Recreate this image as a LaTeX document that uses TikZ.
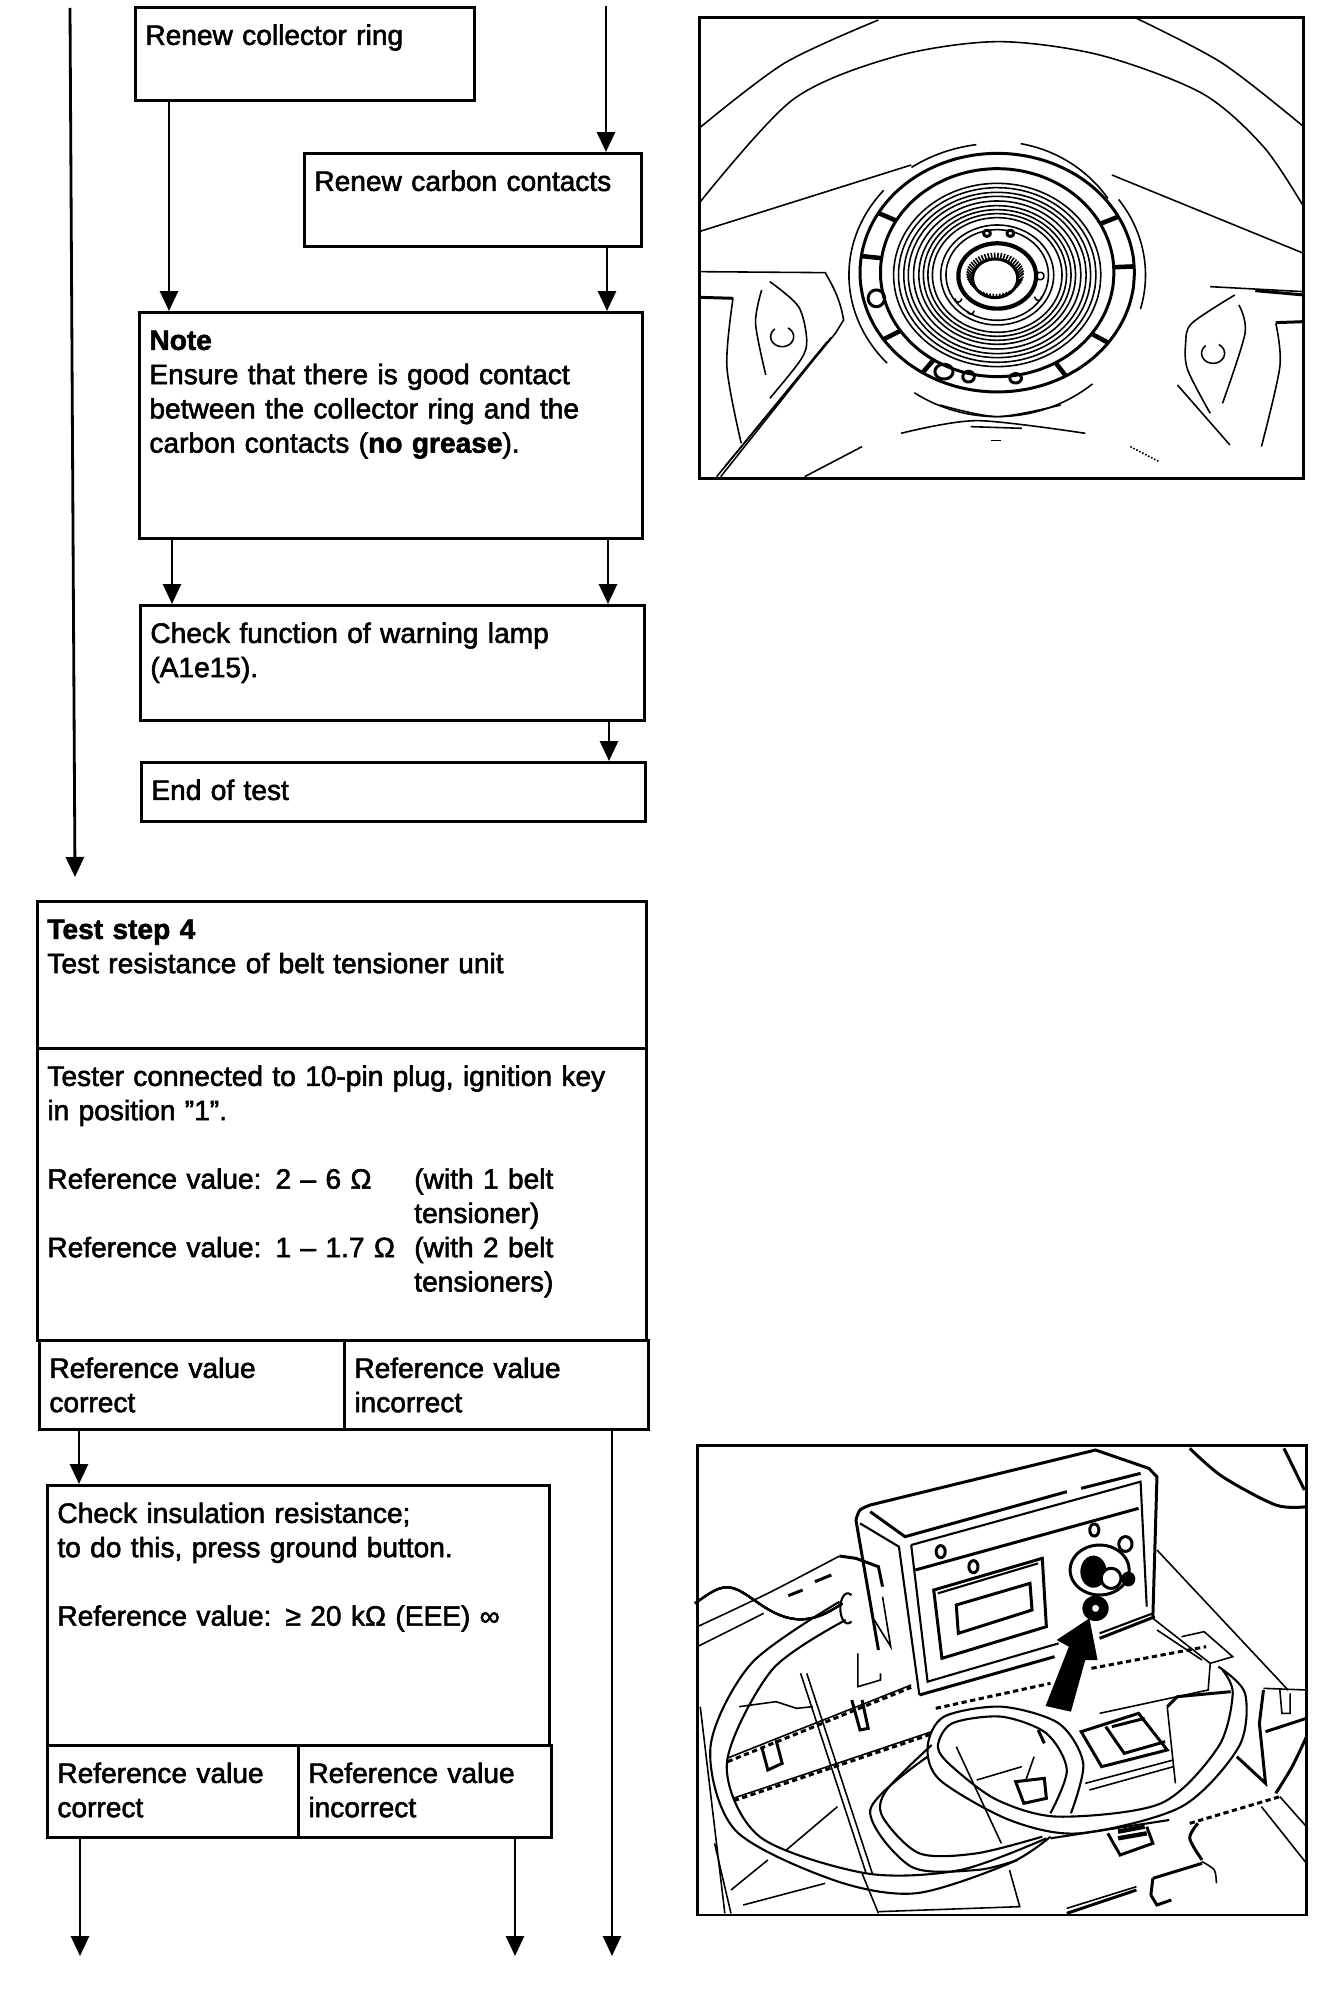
\documentclass[tikz,border=0pt]{standalone}
\usepackage{fontspec}
\setmainfont[RawFeature={embolden=2.0}]{Liberation Sans}
\usetikzlibrary{arrows.meta,calc}
\newcommand{\ringarc}[6]{plot[domain=#5:#6,samples=48,smooth]({#1+#3*cos(\x)},{#2-#4*sin(\x)})}
\tikzset{
    flowbox/.style = {draw, line width=1.6pt, anchor=north west, align=left, inner xsep=0.2cm, inner ysep=0.2cm, text height=0.55cm, font=\fontsize{16}{19.5}\selectfont},
    flowline/.style = {draw, line width=1.6pt, -{Stealth[length=0.4cm,width=0.36cm,inset=0pt]}},
    art/.style = {line width=0.9pt},
    tube/.style = {line width=1.2pt},
    artthick/.style = {line width=1.7pt},
    frame/.style = {line width=1.7pt}
}
\begin{document}
\begin{tikzpicture}[x=0.02cm,y=-0.02cm]
    \path[use as bounding box](0,0)rectangle(1344,2000);
    % flow boxes
    \node[flowbox, text width=6.38cm, text depth=0.91cm](Ring)at(134,6){Renew collector ring};
    \node[flowbox, text width=6.34cm, text depth=0.91cm](Carbon)at(303,152){Renew carbon contacts};
    \node[flowbox, text width=9.66cm, text depth=3.57cm](Note)at(138,311){\textbf{Note}\\Ensure that there is good contact\\between the collector ring and the\\carbon contacts (\textbf{no grease}).};
    \node[flowbox, text width=9.68cm, text depth=1.35cm](Lamp)at(139,604){Check function of warning lamp\\(A1e15).};
    \node[flowbox, text width=9.68cm, text depth=0.23cm](End)at(140,761){End of test};
    \node[flowbox, text width=11.78cm, text depth=1.99cm](Step)at(36,900){\textbf{Test step 4}\\Test resistance of belt tensioner unit};
    \node[flowbox, text width=11.78cm, text depth=4.89cm](Tester)at(36,1047){Tester connected to 10-pin plug, ignition key\\in position "1".\\[19.5pt]\makebox[7.34cm][l]{Reference value: 2 – 6 Ω}(with 1 belt\\\hspace*{7.34cm}tensioner)\\\makebox[7.34cm][l]{Reference value: 1 – 1.7 Ω}(with 2 belt\\\hspace*{7.34cm}tensioners)};
    \node[flowbox, text width=5.70cm, text depth=0.83cm](ValueA)at(38,1339){Reference value\\correct};
    \node[flowbox, text width=5.68cm, text depth=0.83cm](ValueB)at(343,1339){Reference value\\incorrect};
    \node[flowbox, text width=9.64cm, text depth=4.25cm](Insul)at(46,1484){Check insulation resistance;\\to do this, press ground button.\\[19.5pt]Reference value: ≥ 20 kΩ (EEE) ∞};
    \node[flowbox, text width=4.62cm, text depth=0.89cm](ValueC)at(46,1744){Reference value\\correct};
    \node[flowbox, text width=4.66cm, text depth=0.89cm](ValueD)at(297,1744){Reference value\\incorrect};
    % free ends
    \coordinate(T1)at(70,8);
    \coordinate(T2)at(606,6);
    \coordinate(S1)at(75,877);
    \coordinate(S2)at(612,1956);
    \coordinate(S3)at(80,1956);
    \coordinate(S4)at(515,1956);
    % connectors
    \path[flowline](T1)to(S1);
    \path[flowline](T2)to(T2|-Carbon.north);
    \path[flowline](169,0|-Ring.south)to(169,0|-Note.north);
    \path[flowline](607,0|-Carbon.south)to(607,0|-Note.north);
    \path[flowline](172,0|-Note.south)to(172,0|-Lamp.north);
    \path[flowline](608,0|-Note.south)to(608,0|-Lamp.north);
    \path[flowline](609,0|-Lamp.south)to(609,0|-End.north);
    \path[flowline](79,0|-ValueA.south)to(79,0|-Insul.north);
    \path[flowline](S2|-ValueB.south)to(S2);
    \path[flowline](S3|-ValueC.south)to(S3);
    \path[flowline](S4|-ValueD.south)to(S4);
    % upper picture
    \begin{scope}[shift={(690,0)},x=0.0082cm,y=-0.00667cm]
        \draw[frame](22,52)rectangle(1498,1435);
        % wheel rim
        \draw[art]plot[smooth]coordinates{(22,385)(230,190)(460,60)};
        \draw[art]plot[smooth]coordinates{(1090,55)(1300,190)(1498,380)};
        \draw[art]plot[smooth]coordinates{(22,610)(250,300)(500,170)(750,125)(1000,165)(1250,280)(1400,440)(1498,620)};
        \draw[art](22,695)to(540,495);
        \draw[art](1030,525)to(1498,760);
        % collector ring
        \draw[artthick]\ringarc{750}{818}{335}{358}{0}{360};
        \draw[artthick]\ringarc{750}{818}{285}{312}{0}{360};
        \foreach \r in {275,262,248,236,222,208,196,184,172,150,136}{
            \draw[art]\ringarc{750}{825}{0.92*\r}{\r}{0}{360};
        }
        \draw[art]\ringarc{750}{830}{365}{400}{98}{125};
        \draw[art]\ringarc{750}{825}{362}{395}{140}{222};
        \draw[art]\ringarc{750}{825}{362}{395}{-15}{35};
        \draw[art]\ringarc{750}{825}{330}{400}{35}{80};
        \draw[art]\ringarc{750}{830}{362}{420}{236}{310};
        \foreach \a in {150,172,214,237,300,324,3,28}{
            \draw[line width=2.6pt]({750+285*cos(\a)},{818-312*sin(\a)})to({750+335*cos(\a)},{818-358*sin(\a)});
        }
        \draw[artthick]\ringarc{455}{895}{20}{25}{0}{360};
        \draw[artthick]\ringarc{620}{1115}{22}{22}{0}{360};
        \draw[artthick]\ringarc{680}{1130}{14}{16}{0}{360};
        \draw[artthick]\ringarc{795}{1135}{14}{14}{0}{360};
        % hub
        \draw[line width=2.4pt]\ringarc{750}{828}{95}{98}{0}{360};
        \draw[artthick]\ringarc{745}{835}{55}{58}{0}{360};
        \foreach \a in {0,7,...,353}{
            \draw[art]({745+55*cos(\a)},{835-58*sin(\a)})to({745+70*cos(\a)},{820-62*sin(\a)});
        }
        \draw[artthick]\ringarc{725}{700}{8}{9}{0}{360};
        \draw[artthick]\ringarc{782}{700}{8}{9}{0}{360};
        \draw[art]\ringarc{855}{828}{9}{11}{0}{360};
        \draw[art]\ringarc{655}{895}{8}{11}{180}{360};
        \draw[art]\ringarc{850}{890}{8}{11}{180}{360};
        \draw[art]\ringarc{685}{932}{8}{10}{180}{360};
        % left spoke
        \draw[art](22,815)to(330,818)to[out=-60,in=100](375,960)to(355,1000)to(65,1430);
        \draw[art](345,1012)to(75,1430);
        \draw[art](335,1025)to(85,1400);
        \draw[artthick](22,892)to(105,895);
        \draw[art]plot[smooth]coordinates{(105,895)(90,1100)(125,1330)};
        \draw[art]plot[smooth]coordinates{(195,845)(265,920)(285,1020)(270,1080)(195,1195)};
        \draw[art]plot[smooth]coordinates{(175,870)(160,970)(185,1125)};
        \draw[art]\ringarc{225}{1010}{28}{30}{-230}{60};
        % right spoke
        \draw[art](1270,860)to(1498,875);
        \draw[artthick](1380,872)to(1498,885);
        \draw[artthick](1430,968)to(1498,965);
        \draw[art]plot[smooth]coordinates{(1430,970)(1440,1100)(1395,1340)};
        \draw[art]plot[smooth]coordinates{(1330,885)(1225,970)(1210,1030)(1215,1110)(1270,1240)};
        \draw[art](1190,1155)to(1318,1335);
        \draw[art]plot[smooth]coordinates{(1340,915)(1355,1000)(1300,1210)};
        \draw[art]\ringarc{1277}{1060}{28}{30}{-230}{60};
        % lower rim
        \draw[art]plot[smooth]coordinates{(515,1300)(700,1262)(965,1300)};
        \draw[art](280,1430)to(420,1340);
        \draw[art,densely dotted](1075,1340)to(1145,1385);
        \draw[art](685,1280)to(810,1285);
        \draw[art](735,1322)to(760,1322);
        \draw[art]plot[smooth]coordinates{(610,1215)(750,1250)(905,1215)};
    \end{scope}
    % lower picture
    \begin{scope}[shift={(690,1430)},x=0.0082cm,y=-0.00667cm]
        \draw[frame](18,45)rectangle(1505,1455);
        % tester case
        \draw[artthick]plot[smooth]coordinates{(405,270)(415,240)(440,225)};
        \draw[artthick](440,225)to(990,60)to(1120,115)to(1140,140)to(1130,560);
        \draw[artthick](405,270)to(460,660);
        \draw[artthick](440,245)to(525,320)to(920,185);
        \draw[artthick](955,175)to(1100,130);
        \draw[tube](540,345)to(1100,155)to(1115,530);
        \draw[artthick](550,420)to(1095,235);
        \draw[tube](415,280)to(510,350)to(560,795);
        \draw[tube](540,345)to(580,755)to(900,640);
        \draw[tube](1000,610)to(1130,550);
        \draw[artthick](560,795)to(890,680);
        \draw[artthick](1000,625)to(1135,560);
        % display
        \draw[artthick](595,480)to(860,385)to(870,590)to(615,685)--cycle;
        \draw[tube](605,490)to(850,400);
        \draw[artthick](650,525)to(830,460)to(835,540)to(655,610)--cycle;
        % screws and knob
        \draw[artthick]\ringarc{612}{365}{11}{18}{0}{360};
        \draw[artthick]\ringarc{692}{410}{11}{18}{0}{360};
        \draw[artthick]\ringarc{987}{300}{11}{18}{0}{360};
        \draw[artthick]\ringarc{1063}{342}{16}{22}{0}{360};
        \draw[artthick]\ringarc{1000}{420}{72}{75}{0}{360};
        \fill\ringarc{985}{425}{32}{48}{0}{360};
        \fill[white]\ringarc{1028}{445}{24}{30}{0}{360};
        \draw[artthick]\ringarc{1028}{445}{24}{30}{0}{360};
        \fill\ringarc{1070}{447}{17}{22}{0}{360};
        \fill\ringarc{990}{535}{32}{38}{0}{360};
        \fill[white]\ringarc{990}{535}{8}{10}{0}{360};
        % arrow
        \fill(868,828)--(930,845)--(965,690)--(995,690)--(975,565)--(895,630)--(925,650)--cycle;
        % connector on the case
        \draw[artthick](365,378)to(405,385)to(460,410)to(470,470);
        \draw[tube]\ringarc{385}{535}{18}{45}{60}{300};
        \foreach \x in {400,415,430,445,458}{
            \draw[tube]\ringarc{\x}{520}{12}{48}{0}{360};
        }
        \draw[art](450,570)to(490,650)to(470,500);
        % tube to the tester
        \draw[tube]plot[smooth]coordinates{(365,515)(150,700)(50,950)(110,1200)(350,1350)(550,1390)(780,1300)(880,1220)};
        \draw[tube]plot[smooth]coordinates{(380,570)(200,720)(90,1000)(170,1220)(430,1330)(660,1320)(870,1225)};
        % coiled tube
        \draw[tube]plot[smooth]coordinates{(1290,710)(1355,790)(1340,950)(1200,1130)(950,1210)(780,1170)(610,1050)(580,950)(620,860)(760,830)(900,880)(960,1000)(930,1150)};
        \draw[tube]plot[smooth]coordinates{(1300,720)(1325,790)(1290,950)(1150,1120)(900,1160)(750,1110)(640,1010)(605,950)(640,880)(760,860)(870,910)(920,1020)(880,1150)};
        \draw[tube]plot[smooth]coordinates{(590,945)(480,1080)(470,1160)(560,1270)(700,1270)(860,1220)};
        \draw[tube]plot[smooth]coordinates{(580,980)(440,1140)(540,1310)(700,1320)(800,1290)};
        % floor panel
        \draw[art]plot[smooth]coordinates{(18,590)(190,490)(365,378)};
        \draw[art](18,650)to(180,550);
        \draw[artthick](240,497)to(275,480);
        \draw[artthick](305,455)to(345,435);
        \draw[art](90,985)to(540,765);
        \draw[artthick,densely dashed](92,995)to(540,772);
        \draw[art](105,1105)to(590,905);
        \draw[artthick,densely dashed](107,1112)to(590,912);
        \draw[artthick,densely dashed](600,835)to(880,760);
        \draw[artthick,densely dashed](980,715)to(1260,650);
        \draw[art](1140,360)to(1460,780);
        \draw[art](1130,565)to(1270,700);
        \draw[art](1200,620)to(1255,605)to(1325,680)to(1270,700)to(1265,780)to(1000,850);
        \draw[art](1140,600)to(1250,690);
        % right corner
        \draw[artthick]plot[smooth]coordinates{(1220,55)(1300,140)(1430,225)(1505,230)};
        \draw[artthick](1450,55)to(1500,180);
        \draw[artthick](1400,780)to(1390,880)to(1405,1060)to(1335,980);
        \draw[art](1400,775)to(1505,780);
        \draw[art](1440,780)to(1445,850)to(1465,850)to(1465,790);
        \draw[artthick](1405,905)to(1505,865);
        \draw[artthick]plot[smooth]coordinates{(1505,920)(1470,1010)(1430,1090)};
        % small parts on the left
        \draw[art](410,670)to(410,770)to(465,750)to(465,730);
        \draw[artthick](395,810)to(415,900)to(435,895)to(420,810);
        \draw[artthick](175,950)to(190,1020)to(225,1000)to(210,930);
        \draw[art](270,730)to(430,1330);
        \draw[art](285,730)to(445,1330);
        \draw[art](420,1330)to(460,1450);
        \draw[art](25,830)to(85,1450);
        \draw[art](60,1240)to(100,1450);
        \draw[art](235,1260)to(360,1130);
        \draw[art](100,1380)to(190,1290);
        \draw[art](130,1425)to(330,1360);
        \draw[art](120,830)to(210,815)to(260,835)to(300,830);
        % pieces inside the coil
        \draw[artthick](955,905)to(1095,850)to(1165,960)to(1005,1010)--cycle;
        \draw[artthick](1015,890)to(1060,970)to(1160,935);
        \draw[artthick](1030,890)to(1110,865);
        \draw[artthick](1165,830)to(1190,800)to(1320,785);
        \draw[art](1165,830)to(1185,1060);
        \draw[art](965,1060)to(1180,990);
        \draw[art](975,1080)to(1180,1010);
        \draw[art](650,950)to(760,1240);
        \draw[art](700,1050)to(810,1010);
        \draw[artthick](795,1055)to(815,1120)to(870,1105)to(865,1045)--cycle;
        \draw[art](820,1050)to(840,980);
        \draw[artthick](850,900)to(865,940);
        \draw[artthick](1020,1210)to(1050,1275)to(1130,1240)to(1115,1190);
        \draw[line width=2.5pt](1045,1205)to(1110,1190);
        \draw[line width=2.5pt](1045,1225)to(1115,1210);
        % lower right
        \draw[tube](880,1225)to(1170,1170);
        \draw[artthick,densely dashed](1220,1180)to(1440,1100);
        \draw[artthick]plot[smooth]coordinates{(1240,1180)(1220,1225)(1250,1290)};
        \draw[art]plot[smooth]coordinates{(1250,1295)(1280,1320)(1285,1360)};
        \draw[artthick](1130,1345)to(1250,1300);
        \draw[artthick](1130,1345)to(1125,1395);
        \draw[artthick](1125,1395)to(1140,1425)to(1175,1410);
        \draw[artthick](920,1450)to(1090,1380);
        \draw[art](920,1435)to(1090,1370);
        \draw[art](1395,1130)to(1505,1300);
        \draw[art](1440,1100)to(1505,1190);
        \draw[art](780,1320)to(805,1430)to(460,1445);
    \end{scope}
\end{tikzpicture}
\end{document}
